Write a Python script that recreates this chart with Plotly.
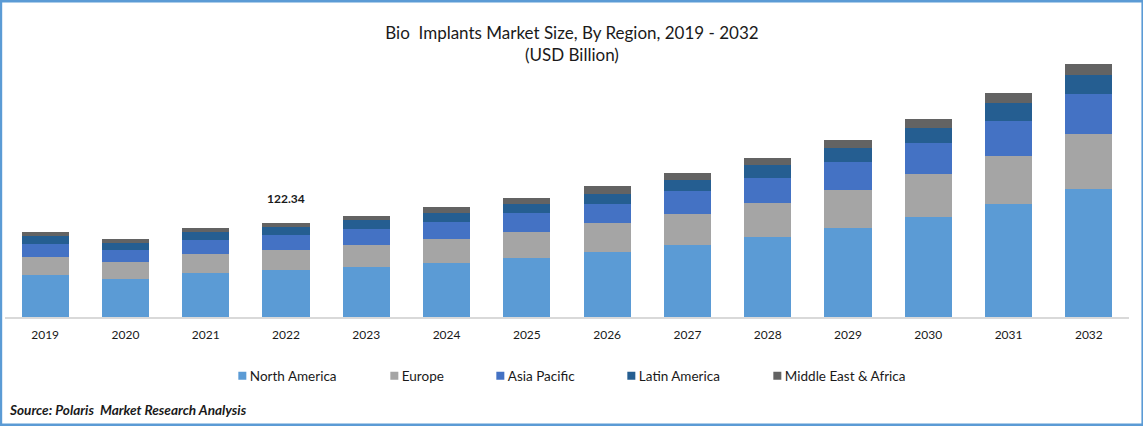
import plotly.graph_objects as go

# values (USD Billion)
years = ["2019", "2020", "2021", "2022", "2023", "2024", "2025",
         "2026", "2027", "2028", "2029", "2030", "2031", "2032"]
north_america = [54.7, 49.5, 57.3, 61.2, 65.1, 70.3, 76.8, 84.6, 93.7, 104.1, 115.8, 130.2, 147.1, 166.6]
europe = [23.4, 22.1, 24.7, 26.0, 28.6, 31.2, 33.8, 37.7, 40.3, 44.3, 49.5, 56.0, 62.5, 71.6]
asia_pacific = [16.9, 15.6, 18.2, 19.5, 20.8, 22.1, 24.7, 24.7, 29.9, 32.5, 36.4, 40.3, 45.6, 52.1]
latin_america = [10.4, 9.1, 10.4, 10.4, 11.7, 11.7, 11.7, 13.0, 14.3, 16.9, 18.2, 19.5, 23.4, 24.7]
middle_east_africa = [5.2, 5.2, 5.2, 5.2, 5.2, 7.8, 7.8, 10.4, 9.1, 9.1, 10.4, 11.7, 13.0, 14.3]
label_year = "2022"
label_text = "122.34"

series = [
    ("North America", north_america, "#5B9BD5"),
    ("Europe", europe, "#A5A5A5"),
    ("Asia Pacific", asia_pacific, "#4472C4"),
    ("Latin America", latin_america, "#255E91"),
    ("Middle East & Africa", middle_east_africa, "#636363"),
]
# width of each legend entry, so the gaps follow the picture
legend_widths = [107, 61, 86, 101, 121]

W, H = 1143, 426
L, R, T, B = 5.3, 14.4, 40, 109
FONT = "Lato"
TEXT = "#1a1a1a"


def paper_x(px):
    return (px - L) / (W - L - R)


def paper_y(py):
    return (H - B - py) / (H - T - B)


fig = go.Figure()

for (name, values, color), entry_width in zip(series, legend_widths):
    fig.add_trace(go.Bar(
        x=years, y=values, name=name, marker=dict(color=color, line_width=0),
        legendwidth=entry_width,
    ))

total = sum(s[1][years.index(label_year)] for s in series)
fig.add_annotation(
    x=years.index(label_year), y=total, text=f"<b>{label_text}</b>", showarrow=False,
    yanchor="bottom", yshift=15, font=dict(family=FONT, size=12, color=TEXT),
)
fig.add_annotation(
    xref="paper", yref="paper", x=paper_x(7), y=paper_y(410), xanchor="left", yanchor="middle",
    text="<b><i>Source: Polaris  Market Research Analysis</i></b>", showarrow=False,
    font=dict(family=FONT, size=13.6, color=TEXT),
)

# blue frame round the whole picture
fig.add_shape(
    type="rect", xref="paper", yref="paper",
    x0=paper_x(1), x1=paper_x(W - 0.5), y0=paper_y(H - 1), y1=paper_y(1),
    line=dict(color="#5B9BD5", width=3), fillcolor="rgba(0,0,0,0)",
)

fig.update_layout(
    width=W, height=H,
    barmode="stack", bargap=0.414,
    plot_bgcolor="white", paper_bgcolor="white",
    margin=dict(l=L, r=R, t=T, b=B, pad=0),
    title=dict(
        text="Bio  Implants Market Size, By Region, 2019 - 2032<br>(USD Billion)",
        x=0.5004, xref="container", y=1 - 39 / H, yanchor="middle",
        font=dict(family=FONT, size=17, color=TEXT),
    ),
    xaxis=dict(
        type="category", range=[-0.5, 13.5], showline=True, linecolor="#D9D9D9", linewidth=1.5,
        ticks="", ticklabelstandoff=6, tickfont=dict(family=FONT, size=12, color=TEXT),
    ),
    yaxis=dict(visible=False, range=[0, 360]),
    legend=dict(
        orientation="h", x=paper_x(222.5), y=paper_y(376), xanchor="left", yanchor="middle",
        traceorder="normal", bgcolor="rgba(0,0,0,0)",
        font=dict(family=FONT, size=13.5, color=TEXT),
    ),
)

# smaller swatches, closer to their text than plotly draws them
tidy_legend = """
document.body.style.margin = '0';
document.querySelectorAll('g.legendpoints path').forEach(p => p.setAttribute('d', 'M4,4H-4V-4H4Z'));
document.querySelectorAll('text.legendtext').forEach(t => t.setAttribute('x', 27.5));
"""
fig.write_html("out.html", config=dict(displayModeBar=False), post_script=tidy_legend)
